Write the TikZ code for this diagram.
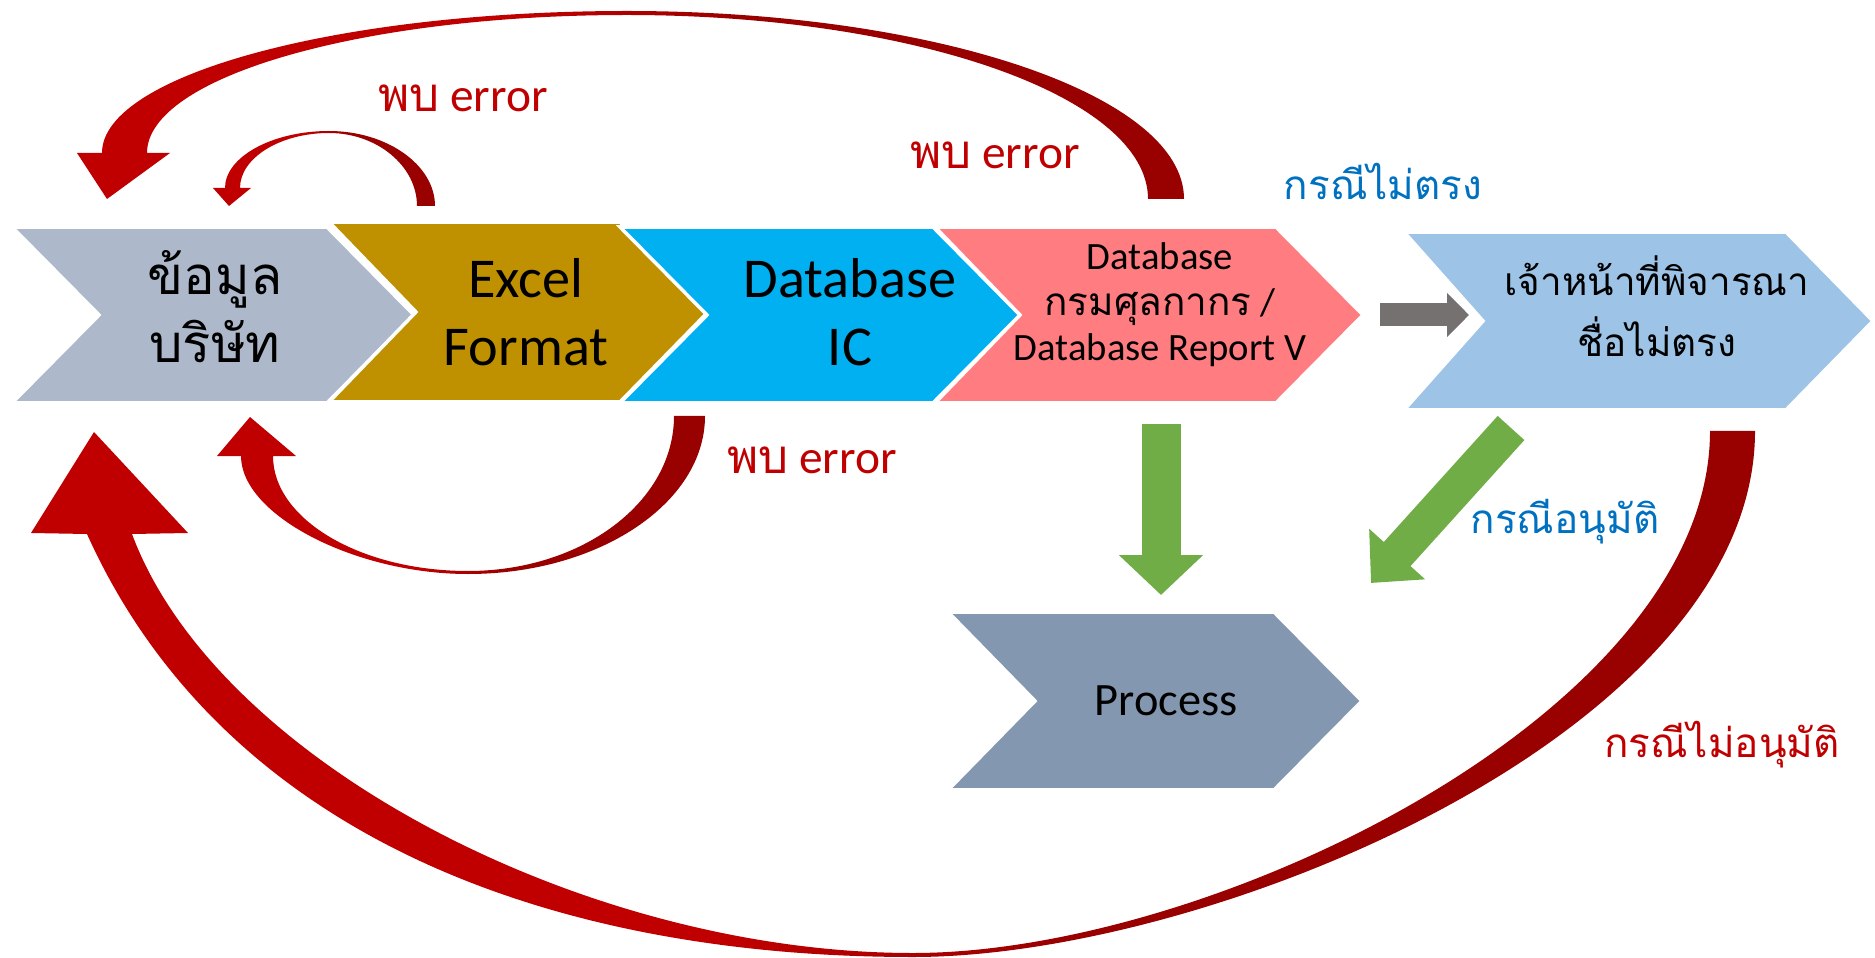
\documentclass[tikz,border=0pt]{standalone}
\usepackage{fontspec}
\setmainfont{Carlito}
\newfontfamily\thaifont[Script=Thai]{Loma}
\usetikzlibrary{arrows.meta}
\definecolor{grayblue}{HTML}{ADB9CA}
\definecolor{gold}{HTML}{BF9000}
\definecolor{skyblue}{HTML}{00B0F0}
\definecolor{salmon}{HTML}{FF7C80}
\definecolor{paleblue}{HTML}{9DC3E6}
\definecolor{slate}{HTML}{8497B0}
\definecolor{leaf}{HTML}{70AD47}
\definecolor{stone}{HTML}{767171}
\definecolor{arcred}{HTML}{C00000}
\definecolor{arcdark}{HTML}{990000}
\definecolor{txtblue}{HTML}{0070C0}
\pgfdeclarehorizontalshading{redarc}{100bp}{color(0bp)=(arcred); color(45bp)=(arcred); color(55bp)=(arcdark); color(100bp)=(arcdark)}

\begin{document}
\begin{tikzpicture}[x=0.1mm,y=-0.1mm,
  chev/.style={draw=white,line width=1pt},
  big/.style={align=center,inner sep=0pt,font=\fontsize{16}{19.3}\selectfont,
    execute at begin node=\setlength{\lineskiplimit}{-20pt}},
  small/.style={align=center,inner sep=0pt,font=\fontsize{11}{13}\selectfont,
    execute at begin node=\setlength{\lineskiplimit}{-20pt}},
  lbl/.style={anchor=base,inner sep=0pt,font=\fontsize{13.5}{16}\selectfont},
  thailbl/.style={anchor=base,inner sep=0pt,font=\fontsize{11.5}{14}\selectfont\thaifont}]
  \useasboundingbox (0,0) rectangle (1875,958);

  \path[chev,fill=grayblue] (12,227) -- ++(315,0) -- ++(87,88) -- ++(-87,88) -- ++(-315,0) -- ++(87,-88) -- cycle;
  \path[chev,fill=gold] (329,222) -- ++(291,0) -- ++(88,90) -- ++(-88,90) -- ++(-291,0) -- ++(87,-90) -- cycle;
  \path[chev,fill=skyblue] (620,227) -- ++(313,0) -- ++(87,88) -- ++(-87,88) -- ++(-313,0) -- ++(87,-88) -- cycle;
  \path[chev,fill=salmon] (935,227) -- ++(341,0) -- ++(87,88) -- ++(-87,88) -- ++(-341,0) -- ++(85,-88) -- cycle;
  \path[chev,fill=paleblue] (1404,232) -- ++(382,0) -- ++(87,89) -- ++(-87,89) -- ++(-382,0) -- ++(79,-89) -- cycle;
  \path[chev,fill=slate] (948,612) -- ++(326,0) -- ++(88,89) -- ++(-88,89) -- ++(-326,0) -- ++(87,-89) -- cycle;

  \node[big,font=\fontsize{15}{19.3}\selectfont\thaifont] (company) at (215,307) {ข้อมูล\\บริษัท};
  \node[big] (excel) at (526,312) {Excel\\Format};
  \node[big] (dbic) at (850,312) {Database\\IC};
  \node[small] (customs) at (1160,305) {Database\\{\thaifont กรมศุลกากร} /\\Database Report V};
  \node[small,font=\fontsize{11}{17.3}\selectfont\thaifont] (officer) at (1657,306) {เจ้าหน้าที่พิจารณา\\ชื่อไม่ตรง};
  \node[inner sep=0pt,font=\fontsize{13.2}{16}\selectfont] (process) at (1166,701) {Process};

  \coordinate (downtop) at (1161,424); \coordinate (downtip) at (1161,595);
  \coordinate (slanttop) at (1511,428); \coordinate (slanttip) at (1371,583);
  \coordinate (graytail) at (1380,315); \coordinate (graytip) at (1469,315);
  \draw[leaf,line width=3.9mm,-{Triangle[length=4mm,width=8.2mm]}] (downtop) -- (downtip);
  \draw[leaf,line width=3.6mm,-{Triangle[length=3.9mm,width=7.3mm]}] (slanttop) -- (slanttip);
  \draw[stone,line width=2.3mm,-{Triangle[length=2.2mm,width=4.3mm]}] (graytail) -- (graytip);

  \shade[shading=redarc] (1184,199) .. controls (1184,95) and (935,11) .. (627,11) .. controls (338,11) and (102,75) .. (102,153) -- (77,153) -- (107,199) -- (170,153) -- (147,153) .. controls (147,77) and (362,15) .. (627,15) .. controls (915,15) and (1148,97) .. (1148,199) -- cycle;
  \shade[shading=redarc] (435,206) .. controls (435,165) and (387,131) .. (329,131) .. controls (272,131) and (225,157) .. (225,188) -- (213,188) -- (229,206) -- (251,188) -- (240,188) .. controls (240,158) and (280,133) .. (329,133) .. controls (377,133) and (417,166) .. (417,206) -- cycle;
  \shade[shading=redarc] (705,416) .. controls (705,503) and (599,574) .. (468,574) .. controls (355,574) and (241,515) .. (241,456) -- (217,456) -- (250,417) -- (296,456) -- (273,456) .. controls (273,519) and (360,571) .. (468,571) .. controls (582,571) and (674,502) .. (674,416) -- cycle;
  \shade[shading=redarc] (1755,431) .. controls (1755,731) and (1213,957) .. (913,957) .. controls (533,957) and (218,825) .. (87,534) -- (31,533) -- (94,432) -- (188,533) -- (132,534) .. controls (216,760) and (583,953) .. (913,953) .. controls (1213,953) and (1710,711) .. (1710,431) -- cycle;

  \node[lbl,arcred] (err1) at (463,112) {{\thaifont พบ} error};
  \node[lbl,arcred] (err2) at (995,169) {{\thaifont พบ} error};
  \node[lbl,arcred] (err3) at (812,474) {{\thaifont พบ} error};
  \node[thailbl,txtblue] (mismatch) at (1383,200) {กรณีไม่ตรง};
  \node[thailbl,txtblue] (approve) at (1565,533) {กรณีอนุมัติ};
  \node[thailbl,arcred] (reject) at (1722,757) {กรณีไม่อนุมัติ};
\end{tikzpicture}
\end{document}
